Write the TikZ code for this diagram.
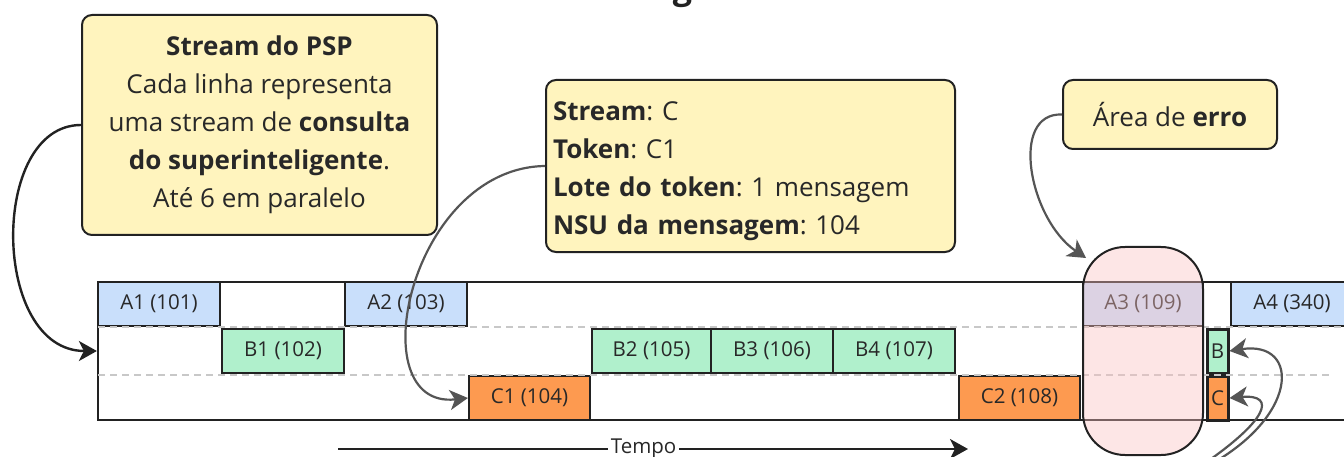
\documentclass[tikz,border=0pt]{standalone}
\usepackage{fontspec}
\setmainfont{Open Sans}
\frenchspacing
\usetikzlibrary{arrows.meta}

\definecolor{notefill}{RGB}{255,244,190}
\definecolor{ink}{RGB}{34,34,34}
\definecolor{txt}{RGB}{40,40,40}
\definecolor{blueA}{RGB}{201,223,251}
\definecolor{greenB}{RGB}{176,240,204}
\definecolor{orangeC}{RGB}{253,154,80}
\definecolor{errfill}{RGB}{250,192,192}
\definecolor{gridgray}{RGB}{200,200,200}
\definecolor{linkgray}{RGB}{85,85,85}

\tikzset{
  note/.style={draw=ink, line width=2pt, fill=notefill, rounded corners=10pt,
    text=txt, font=\fontsize{26}{38}\selectfont},
  tok/.style={draw=ink, line width=2.2pt, minimum height=44pt, inner sep=0pt,
    text=txt, font=\fontsize{20.5}{24}\selectfont},
  tokA/.style={tok, fill=blueA},
  tokB/.style={tok, fill=greenB},
  tokC/.style={tok, fill=orangeC},
  lane/.style={draw=gridgray, line width=2pt, dash pattern=on 7pt off 5pt},
  headtip/.style={-{Stealth[length=18pt,width=20pt,inset=5pt]}},
  graylink/.style={draw=linkgray, line width=2.2pt, headtip},
  darklink/.style={draw=ink, line width=2.4pt, headtip},
}

\begin{document}
\begin{tikzpicture}[x=1pt, y=-1pt]
\useasboundingbox (0,0) rectangle (1344,457);

% title (largely above the visible area)
\node[anchor=base, text=ink, font=\fontsize{34}{40}\selectfont\bfseries] (title) at (705,0) {Legenda};

% legend notes
\node[note, minimum width=355pt, minimum height=220pt, align=center] (psp) at (259.5,125)
  {\textbf{Stream do PSP}\\Cada linha representa\\uma stream de \textbf{consulta}\\\textbf{do superinteligente}.\\Até 6 em paralelo};
\node[note, text width=395pt, inner xsep=7pt, minimum height=172pt, align=left] (token) at (750.5,166)
  {\rule{0pt}{30pt}\textbf{Stream}: C\\\textbf{Token}: C1\\\textbf{Lote do token}: 1 mensagem\\\textbf{NSU da mensagem}: 104};
\node[note, minimum width=214pt, minimum height=69pt] (erro) at (1170,114.5)
  {Área de \textbf{erro}};

% timeline frame
\node[draw=ink, line width=2.2pt, fill=white, minimum width=1262pt, minimum height=138pt, inner sep=0pt] (frame) at (729,351) {};

% stream A
\node[tokA, minimum width=122pt] (A1) at (159,304) {A1 (101)};
\node[tokA, minimum width=122pt] (A2) at (406,304) {A2 (103)};
\node[tokA, minimum width=120pt] (A3) at (1143,304) {A3 (109)};
\node[tokA, minimum width=122pt] (A4) at (1292,304) {A4 (340)};
% stream B
\node[tokB, minimum width=122pt] (B1) at (283,351) {B1 (102)};
\node[tokB, minimum width=119pt] (B2) at (651.5,351) {B2 (105)};
\node[tokB, minimum width=122pt] (B3) at (772,351) {B3 (106)};
\node[tokB, minimum width=122pt] (B4) at (894,351) {B4 (107)};
\node[tokB, minimum width=21pt, line width=3pt] (Bs) at (1217.5,351) {B};
% stream C
\node[tokC, minimum width=121pt] (C1) at (529.5,398) {C1 (104)};
\node[tokC, minimum width=121pt] (C2) at (1019.5,398) {C2 (108)};
\node[tokC, minimum width=21pt, line width=3pt] (Cs) at (1217.5,398) {C};

% lane separators
\draw[lane] (98,327) -- (1344,327);
\draw[lane] (98,375) -- (1330,375);

% error area
\node[draw=ink, line width=2pt, fill=errfill, fill opacity=0.4, rounded corners=42pt,
  minimum width=120pt, minimum height=208pt] (err) at (1143,351) {};

% connectors
\draw[darklink] (psp.west) .. controls +(-92,0) and +(-106,0) .. (frame.west);
\draw[graylink] (token.west) .. controls +(-136,2) and +(-109,12) .. (C1.west);
\draw[graylink] (erro.west) .. controls +(-53,-2) and +(-57,-39) .. ([shift={(4,12)}]err.north west);
\coordinate (srcB) at (1200,470);
\coordinate (srcC) at (1195,470);
\draw[graylink] (srcB) .. controls +(100,-50) and +(72,-11) .. (Bs.east);
\draw[graylink] (srcC) .. controls +(75,-50) and +(47,-4) .. (Cs.east);

% time axis
\coordinate (t0) at (338,449);
\coordinate (t1) at (968,449);
\draw[draw=ink, line width=2pt, headtip] (t0) -- (t1)
  node[pos=0.485, fill=white, inner xsep=3pt, inner ysep=2pt, text=txt, font=\fontsize{20.5}{24}\selectfont] (tempo) {Tempo};
\end{tikzpicture}
\end{document}
